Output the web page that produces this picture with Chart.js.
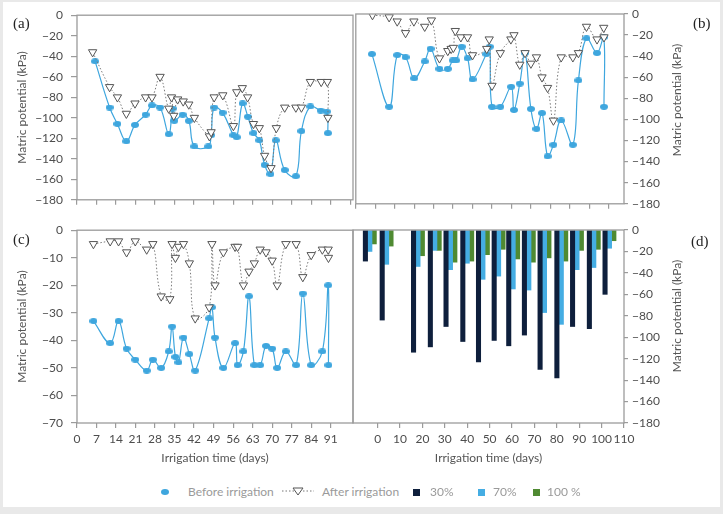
<!DOCTYPE html>
<html>
<head>
<meta charset="utf-8">
<script src="https://cdn.jsdelivr.net/npm/chart.js@4.4.0/dist/chart.umd.min.js"></script>
<style>
  html, body { margin: 0; padding: 0; background: #e9e9e9; }
  #fig { position: relative; width: 723px; height: 514px; overflow: hidden; }
  #sheet { position: absolute; left: 3px; top: 2px; width: 717px; height: 505px; background: #fff; }
  canvas { position: absolute; }
  .tag { position: absolute; font-family: "Liberation Serif", serif; font-size: 15px; color: #222; line-height: 16px; }
  .rtitle { position: absolute; width: 200px; height: 14px; line-height: 14px; text-align: center;
            font-family: Lato, sans-serif; font-size: 12px; color: #555; transform: rotate(-90deg); white-space: nowrap; }
  .lg { position: absolute; font-family: Lato, sans-serif; font-size: 12px; color: #9a9a9a; line-height: 14px; top: 485px; white-space: nowrap; }
  .sq { position: absolute; width: 7px; height: 7px; top: 489px; }
</style>
</head>
<body>
<div id="fig">
  <div id="sheet"></div>
  <canvas id="pa" width="360" height="215" style="left:0;top:0"></canvas>
  <canvas id="pb" width="373" height="215" style="left:350px;top:0"></canvas>
  <canvas id="pc" width="360" height="260" style="left:0;top:215px"></canvas>
  <canvas id="pd" width="373" height="260" style="left:350px;top:215px"></canvas>

  <div class="tag" style="left:13px;top:15px">(a)</div>
  <div class="tag" style="left:693px;top:15px">(b)</div>
  <div class="tag" style="left:13px;top:231px">(c)</div>
  <div class="tag" style="left:691px;top:233px">(d)</div>
  <div class="rtitle" style="left:577px;top:93px">Matric potential (kPa)</div>
  <div class="rtitle" style="left:577px;top:309px">Matric potential (kPa)</div>

  <!-- legend -->
  <span style="position:absolute;left:161px;top:489px;width:8px;height:6px;border-radius:50%;background:#3ea6de"></span>
  <div class="lg" style="left:188px">Before irrigation</div>
  <svg style="position:absolute;left:282px;top:486px" width="32" height="12">
    <line x1="0" y1="5" x2="32" y2="5" stroke="#777" stroke-width="1" stroke-dasharray="1.5,2"/>
    <polygon points="11,2 21,2 16,9" fill="#fff" stroke="#555" stroke-width="1"/>
  </svg>
  <div class="lg" style="left:322px">After irrigation</div>
  <span class="sq" style="left:413px;background:#0e1f3c"></span>
  <div class="lg" style="left:430px">30%</div>
  <span class="sq" style="left:478px;background:#45ade3"></span>
  <div class="lg" style="left:493px">70%</div>
  <span class="sq" style="left:533px;background:#4f8a32"></span>
  <div class="lg" style="left:547px">100 %</div>
</div>

<script>
// ---- data ----
const daysBeforeA = [6.5, 11.7, 14.5, 17.7, 20.8, 24.6, 26.9, 29.8, 32.9, 34.3, 34.9, 37.9, 40.1, 42.1, 47.1, 48.1, 49.2, 52.2, 56.1, 57.3, 59.4, 61.3, 63.3, 65.4, 67.3, 69.4, 71.3, 74.5, 78.5, 80.5, 83.7, 87.4, 89.6, 90];
const beforeA = [-45, -90, -106, -123, -107, -97, -88, -90, -116, -91, -103, -97, -103, -128, -128, -117, -90, -95, -117, -119, -86, -99, -115, -122, -146, -155, -122, -151, -157, -113, -89, -93, -94, -115];
const daysAfterA = [5.6, 11.7, 14.5, 17.7, 20.8, 24.6, 26.9, 29.8, 32.9, 33.9, 34.7, 36.1, 38.1, 40.1, 42.1, 47.5, 48.1, 49.2, 52.3, 56.1, 57.3, 59.3, 61.2, 63.3, 65.4, 67.3, 69.6, 71.5, 74.5, 78.5, 80.5, 83.7, 87.6, 89.8, 90];
const afterA = [-36, -70, -80, -96, -86, -80, -80, -60, -91, -80, -98, -82, -84, -87, -100, -118, -114, -80, -78, -108, -75, -71, -80, -106, -110, -137, -149, -110, -90, -90, -90, -65, -65, -65, -100];

const daysBeforeB = [5.8, 12.0, 14.9, 17.9, 21.0, 24.8, 26.9, 30.1, 33.1, 34.9, 36.1, 38.1, 40.2, 42.0, 47.0, 48.2, 49.0, 52.0, 55.9, 56.9, 59.0, 60.9, 63.0, 65.0, 67.0, 69.0, 71.1, 73.9, 78.1, 80.1, 83.0, 86.8, 89.2, 89.3];
const beforeB = [-38, -88, -39, -41, -61, -45, -33, -52, -52, -44, -44, -31, -42, -62, -38, -31, -88, -88, -69, -91, -66, -37, -90, -109, -94, -135, -124, -101, -124, -63, -23, -37, -22, -88];
const daysAfterB = [6.0, 12.0, 14.9, 17.9, 20.9, 24.8, 27.2, 30.1, 33.1, 34.3, 35.1, 35.8, 37.8, 40.2, 42.0, 47.1, 48.0, 49.0, 52.0, 55.8, 56.9, 59.0, 60.9, 63.0, 65.0, 67.0, 69.0, 71.1, 73.9, 78.1, 80.1, 83.0, 86.8, 89.2, 89.3];
const afterB = [-1, -3, -7, -18, -7, -12, -6, -42, -35, -33, -32, -16, -22, -22, -39, -33, -24, -68, -37, -24, -20, -48, -37, -47, -41, -60, -70, -101, -41, -41, -37, -12, -24, -13, -22];

const daysBeforeC = [5.9, 11.9, 14.9, 17.8, 20.9, 25.0, 27.2, 30.2, 32.9, 34.1, 35.3, 36.4, 38.2, 40.3, 42.4, 47.4, 48.4, 49.5, 52.5, 56.7, 57.6, 59.7, 61.7, 63.6, 65.7, 67.8, 70.0, 71.8, 74.9, 78.6, 81.0, 84.0, 88.0, 90.1, 90.2];
const beforeC = [-33, -41, -33, -43, -47, -51, -47, -50, -44, -35, -46, -48, -39, -45, -51, -32, -28, -39, -50, -41, -49, -44, -24, -49, -49, -42, -43, -50, -44, -49, -23, -49, -44, -20, -49];
const daysAfterC = [5.9, 11.9, 14.9, 17.8, 20.9, 25.0, 27.2, 30.2, 33.3, 34.1, 35.3, 36.4, 38.2, 40.3, 42.4, 47.4, 48.4, 49.5, 52.5, 56.7, 57.6, 59.7, 61.7, 63.6, 65.7, 67.8, 70.0, 71.8, 74.9, 78.6, 81.0, 84.0, 88.0, 90.1, 90.2];
const afterC = [-5, -4, -4, -8, -4, -7, -5, -24, -25, -5, -10, -6, -5, -12, -32, -28, -5, -20, -8, -6, -6, -20, -15, -12, -7, -8, -11, -20, -5, -5, -17, -9, -7, -7, -10];

const barDays = [-3.5, 4, 18, 25.5, 32.5, 40, 47, 54, 60.5, 67.5, 74.5, 82, 89, 96.5, 103.5];
const bar30 = [-29, -84, -114, -109, -90, -104, -123, -103, -108, -98, -130, -138, -90, -92, -60];
const bar70 = [-20, -32, -34, -19, -37, -31, -46, -43, -55, -56, -77, -88, -37, -35, -17];
const bar100 = [-13, -15, -24, -19, -30, -29, -23, -18, -27, -30, -26, -29, -19, -18, -10];

const yTicks180 = [0, -20, -40, -60, -80, -100, -120, -140, -160, -180];
const yTicks70 = [0, -10, -20, -30, -40, -50, -60, -70];
const dayTicks = [0, 7, 14, 21, 28, 35, 42, 49, 56, 63, 70, 77, 84, 91];
const barTicks = [0, 10, 20, 30, 40, 50, 60, 70, 80, 90, 100, 110];

// ---- styling ----
const BLUE = '#3ea6de';
const AXIS = '#9b9b9b';

Chart.defaults.font.family = 'Lato, "Noto Sans", sans-serif';
Chart.defaults.font.size = 12;
Chart.defaults.color = '#4d4d4d';
Chart.defaults.animation = false;
Chart.defaults.plugins.legend.display = false;
Chart.defaults.plugins.tooltip.enabled = false;

// box round each plot area
const frame = {
  id: 'frame',
  afterDatasetsDraw(chart) {
    const { ctx, chartArea: a } = chart;
    ctx.save();
    ctx.strokeStyle = AXIS;
    ctx.lineWidth = 1.3;
    ctx.strokeRect(a.left, a.top, a.right - a.left, a.bottom - a.top);
    ctx.restore();
  }
};

function dot(w, h, color) {
  const c = document.createElement('canvas');
  c.width = w; c.height = h;
  const g = c.getContext('2d');
  g.fillStyle = color;
  g.beginPath();
  g.ellipse(w / 2, h / 2, w / 2, h / 2, 0, 0, Math.PI * 2);
  g.fill();
  return c;
}
const blueDot = dot(8, 6, BLUE);

const minus = (v) => (v === 0 ? '0' : '\u2212' + Math.abs(v));
const pts = (xs, ys) => xs.map((x, i) => ({ x, y: ys[i] }));

function lineSets(bx, by, ax, ay) {
  return [
    {
      data: pts(ax, ay), borderColor: '#7a7a7a', borderWidth: 1, borderDash: [1.5, 2], tension: 0.4,
      pointStyle: 'triangle', pointRotation: 180, pointRadius: 4.8,
      pointBackgroundColor: '#fff', pointBorderColor: '#555', pointBorderWidth: 1,
    },
    {
      data: pts(bx, by), borderColor: BLUE, borderWidth: 1.2, tension: 0.4,
      pointStyle: blueDot, pointRadius: 4,
    },
  ];
}

function yAxis(pos, min, ticks, title) {
  const left = pos === 'left';
  return {
    position: pos, min, max: 0,
    afterBuildTicks: (s) => { s.ticks = ticks.map((v) => ({ value: v })); },
    afterFit: (s) => { s.width = left ? 77 : 99; },
    grid: { drawOnChartArea: false, color: AXIS, tickLength: left ? 6 : 4, lineWidth: 1.2 },
    border: { display: false },
    ticks: { padding: left ? 8 : 4, callback: minus },
    title: { display: title, text: 'Matric potential (kPa)', color: '#555', padding: { top: 15 } },
  };
}

function xAxis(min, max, ticks, labels, height) {
  return {
    type: 'linear', min, max, offset: false,
    afterBuildTicks: (s) => { s.ticks = ticks.map((v) => ({ value: v })); },
    afterFit: (s) => { s.height = height; },
    grid: { drawOnChartArea: false, offset: false, color: AXIS, tickLength: 5, lineWidth: 1.2 },
    border: { display: false },
    ticks: { display: labels, padding: 4, maxRotation: 0, autoSkip: false },
    title: { display: labels, text: 'Irrigation time (days)', color: '#555', padding: { bottom: 10 } },
  };
}

// (a)
new Chart(document.getElementById('pa'), {
  type: 'line',
  data: { datasets: lineSets(daysBeforeA, beforeA, daysAfterA, afterA) },
  options: {
    responsive: false,
    layout: { padding: { left: 0, top: 14, right: 7, bottom: 0 } },
    scales: { x: xAxis(0, 99, dayTicks.concat([98]), false, 8), y: yAxis('left', -180, yTicks180, true) },
  },
  plugins: [frame],
});

// (b)
new Chart(document.getElementById('pb'), {
  type: 'line',
  data: { datasets: lineSets(daysBeforeB, beforeB, daysAfterB, afterB) },
  options: {
    responsive: false,
    layout: { padding: { left: 3, top: 14, right: 0, bottom: 0 } },
    scales: { x: xAxis(0, 96.5, dayTicks, false, 8), y: yAxis('right', -180, yTicks180, false) },
  },
  plugins: [frame],
});

// (c)
new Chart(document.getElementById('pc'), {
  type: 'line',
  data: { datasets: lineSets(daysBeforeC, beforeC, daysAfterC, afterC) },
  options: {
    responsive: false,
    layout: { padding: { left: 0, top: 15, right: 7, bottom: 0 } },
    scales: { x: xAxis(0, 99, dayTicks, true, 52), y: yAxis('left', -70, yTicks70, true) },
  },
  plugins: [frame],
});

// (d)
const barStyle = { barThickness: 4.4, borderWidth: 0 };
new Chart(document.getElementById('pd'), {
  type: 'bar',
  data: {
    datasets: [
      { label: '30%', data: pts(barDays, bar30), backgroundColor: '#0e1f3c', ...barStyle },
      { label: '70%', data: pts(barDays, bar70), backgroundColor: '#45ade3', ...barStyle },
      { label: '100 %', data: pts(barDays, bar100), backgroundColor: '#4f8a32', ...barStyle },
    ],
  },
  options: {
    responsive: false,
    layout: { padding: { left: 3, top: 15, right: 0, bottom: 0 } },
    scales: { x: xAxis(-11, 110, barTicks, true, 52), y: yAxis('right', -180, yTicks180, false) },
  },
  plugins: [frame],
});
</script>
</body>
</html>
